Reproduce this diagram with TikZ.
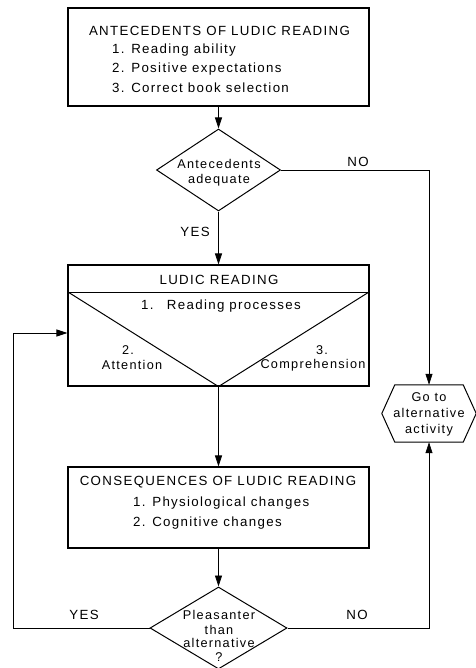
\documentclass[tikz,border=0pt]{standalone}
\usepackage{fontspec}
\setmainfont{Liberation Sans}[LetterSpace=10]
\usetikzlibrary{arrows.meta,shapes.geometric,calc}
\begin{document}
\begin{tikzpicture}[x=1pt,y=-1pt,
  box/.style={draw,line width=1.1pt,minimum width=301pt,inner sep=0pt},
  dia/.style={draw,line width=1pt,shape=diamond,inner sep=0pt},
  conn/.style={line width=0.75pt},
  arr/.style={conn,-{Triangle[length=11pt,width=7pt]}},
  txt/.style={font=\fontsize{13.3}{15}\selectfont,inner sep=0pt},
  sml/.style={font=\fontsize{12.7}{14}\selectfont,inner sep=0pt}
]
\useasboundingbox (0,0) rectangle (475,668);

% antecedents box
\node[box,minimum height=98pt] (ante) at (218.5,57) {};
\node[txt] (anteT) at (219.5,31) {ANTECEDENTS OF LUDIC READING};
\node[txt,anchor=west] (ante1) at (112,50) {1. Reading ability};
\node[txt,anchor=west] (ante2) at (112,69) {2. Positive expectations};
\node[txt,anchor=west] (ante3) at (112,88) {3. Correct book selection};

% decision 1
\node[dia,minimum width=124pt,minimum height=82pt] (d1) at (218.5,170) {};
\node[sml] (d1a) at (219,164) {Antecedents};
\node[sml] (d1b) at (219,180) {adequate};

% ludic reading box
\node[box,minimum height=121pt] (lr) at (218.5,325.5) {};
\coordinate (divL) at (68,292);
\coordinate (divR) at (369,292);
\draw[line width=1pt] (divL) -- (divR);
\draw[line width=1pt] (divL) -- (lr.south) -- (divR);
\node[txt] (lrT) at (219,280) {LUDIC READING};
\node[txt] (lr1) at (221,306) {1.\quad Reading processes};
\node[sml] (lr2a) at (128,350) {2.};
\node[sml] (lr2b) at (132,365) {Attention};
\node[sml] (lr3a) at (322,350) {3.};
\node[sml] (lr3b) at (313,365) {Comprehension};

% alternative activity hexagon
\node[minimum width=94pt,minimum height=57pt,inner sep=0pt] (alt) at (429,413.5) {};
\draw[line width=1pt] (alt.west) -- ($(alt.north west)+(13,0)$) -- ($(alt.north east)+(-13,0)$)
  -- (alt.east) -- ($(alt.south east)+(-13,0)$) -- ($(alt.south west)+(13,0)$) -- cycle;
\node[sml] (alt1) at (429,397) {Go to};
\node[sml] (alt2) at (429,413) {alternative};
\node[sml] (alt3) at (429,430) {activity};

% consequences box
\node[box,minimum height=81pt] (cons) at (218.5,507.5) {};
\node[txt] (consT) at (218,482) {CONSEQUENCES OF LUDIC READING};
\node[txt,anchor=west] (cons1) at (133,503) {1. Physiological changes};
\node[txt,anchor=west] (cons2) at (133,523) {2. Cognitive changes};

% decision 2
\node[dia,minimum width=137pt,minimum height=82pt] (d2) at (218.5,628) {};
\node[sml] (d2a) at (219,615) {Pleasanter};
\node[sml] (d2b) at (219,630) {than};
\node[sml] (d2c) at (219,643) {alternative};
\node[sml] (d2d) at (219,657) {?};

% connectors
\draw[arr] (ante.south) -- (d1.north);
\draw[arr] (d1.south) -- (lr.north);
\draw[arr] (lr.south) -- (cons.north);
\draw[arr] (cons.south) -- (d2.north);
\draw[arr] (d1.east) -| (alt.north);
\draw[arr] (d2.east) -| (alt.south);
\coordinate (fb) at (13,333);
\draw[arr] (d2.west) -| (fb) -- (fb -| lr.west);

% labels
\node[txt] (noA) at (358,162) {NO};
\node[txt] (yesA) at (195,232) {YES};
\node[txt] (yesB) at (84,615) {YES};
\node[txt] (noB) at (357,615) {NO};
\end{tikzpicture}
\end{document}
